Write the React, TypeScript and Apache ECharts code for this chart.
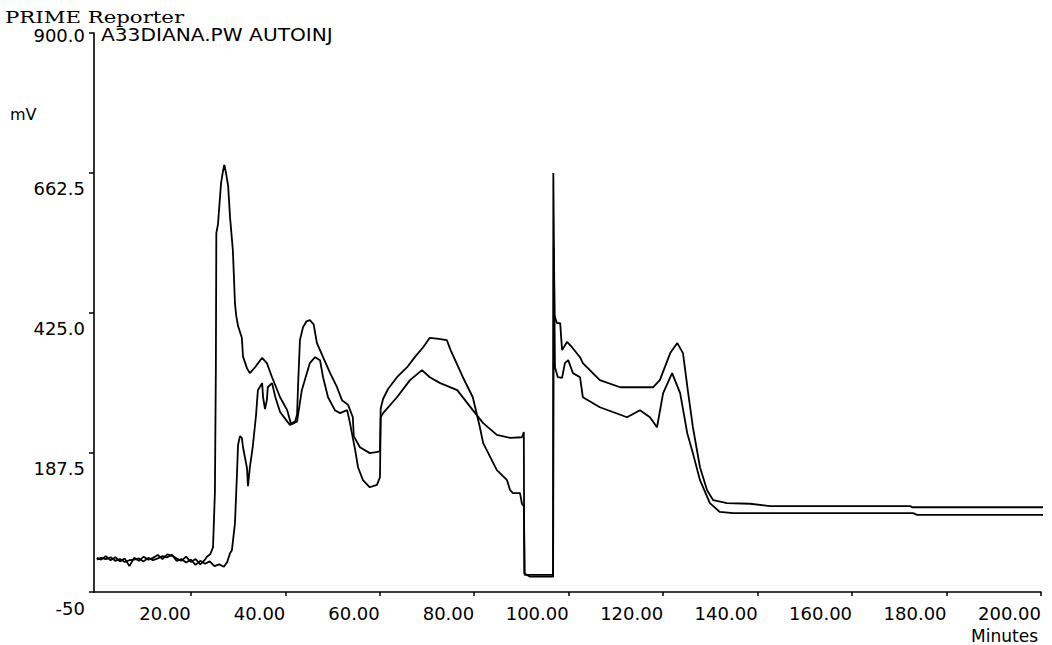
import React, { useEffect, useRef } from "react";
import * as echarts from "echarts";

const xTicks = [20, 40, 60, 80, 100, 120, 140, 160, 180, 200];
const yTicks = [-50, 187.5, 425, 662.5, 900];
const yTickLabels = ["-50", "187.5", "425.0", "662.5", "900.0"];

// trace A: early tall peak (minutes, mV)
const traceA: [number, number][] = [
  [0.1, 8], [1, 5], [2, 11], [3, 4], [4, 9], [5, 2], [6, 7], [7, -6], [8, 8], [9, 3],
  [10, 10], [11, 5], [12, 8], [13, 13], [14, 6], [15, 14], [16, 12], [17, 7], [18, 3], [19, 10],
  [20, 1], [21, 6], [22, -3], [23, 5], [23.4, 10], [24.1, 14], [24.7, 26], [25.1, 120], [25.3, 330],
  [25.4, 560], [25.75, 575], [26.4, 645], [26.8, 665], [27.1, 676], [27.45, 662], [27.9, 640],
  [28.3, 587], [28.9, 531], [29.35, 440], [29.6, 420], [30.0, 402], [30.8, 382], [31.05, 350],
  [31.9, 330], [32.5, 322], [33.6, 332], [35.1, 348], [36.1, 339], [37.2, 315], [38.9, 281],
  [40.4, 259], [41.2, 236], [42.1, 240], [42.5, 252], [42.7, 300], [43.1, 378], [43.75, 400],
  [44.5, 410], [45.2, 412], [46.0, 405], [46.7, 373], [48.0, 349], [49.5, 322], [50.95, 298],
  [52.0, 276], [53.3, 268], [54.3, 247], [54.5, 215], [55.8, 196], [57.9, 186], [59.6, 188],
  [60.05, 190], [60.2, 262], [60.7, 278], [61.75, 295], [63.65, 315], [65.8, 332], [67.5, 350],
  [69.2, 366], [70.6, 382], [72.5, 380], [74.2, 378], [75.0, 361], [77.6, 315], [79.7, 281],
  [81.2, 230], [81.9, 203], [84.8, 157], [86.95, 140], [87.6, 123], [88.2, 118], [89.7, 118],
  [90.1, 100], [90.5, 96], [90.7, -21], [91.8, -21], [96.7, -21], [96.75, 662], [97.0, 420],
  [97.5, 407], [98.2, 407], [98.6, 361], [99.65, 375], [100.7, 366], [102.4, 349], [103.0, 339],
  [106.6, 310], [110.9, 298], [114.5, 298], [117.9, 298], [119.3, 310], [121.5, 356], [123.0, 373],
  [124.2, 356], [125.3, 288], [126.3, 230], [127.8, 162], [129.3, 123], [130.6, 106], [133.5, 101],
  [138.4, 100], [142.6, 96], [172.3, 96], [172.7, 94], [202.3, 94],
];

// trace B: later rising trace (minutes, mV)
const traceB: [number, number][] = [
  [0.1, 5], [1, 8], [2, 6], [3, 9], [4, 3], [5, 6], [6, 1], [7, 4], [8, 5], [9, 7],
  [10, 2], [11, 8], [12, 4], [13, 7], [14, 11], [15, 9], [16, 13], [17, 3], [18, 6], [19, 0],
  [20, 5], [21, -4], [22, 3], [23, -2], [24, 2], [25, -6], [26, -3], [27, -7], [27.7, 1],
  [28.3, 16], [28.7, 21], [29.35, 67], [29.8, 157], [30.0, 200], [30.4, 215], [30.8, 212],
  [31.05, 196], [31.9, 160], [32.1, 130], [32.5, 162], [33.1, 196], [33.8, 250], [34.2, 293],
  [35.1, 305], [35.3, 281], [35.7, 261], [36.1, 276], [36.3, 298], [37.2, 305], [37.9, 281],
  [38.9, 256], [40.4, 240], [41.0, 234], [41.6, 236], [42.5, 240], [43.5, 293], [45.2, 339],
  [46.3, 349], [47.35, 344], [48.0, 315], [49.05, 281], [50.5, 259], [51.6, 254], [53.1, 259],
  [53.7, 237], [54.1, 220], [54.8, 191], [55.4, 162], [56.45, 140], [57.9, 128], [59.4, 132],
  [60.05, 145], [60.2, 247], [60.7, 254], [63.65, 281], [66.4, 310], [68.95, 327], [70.6, 315],
  [72.8, 305], [76.4, 293], [79.7, 259], [81.9, 237], [84.8, 217], [87.6, 212], [90.1, 213],
  [90.5, 222], [90.6, -18], [91.8, -24], [96.7, -24], [96.85, 535], [97.1, 332], [97.7, 315],
  [98.6, 314], [99.2, 339], [99.9, 344], [100.9, 322], [102.4, 315], [103.0, 281], [106.6, 264],
  [112.35, 247], [115.1, 259], [117.2, 247], [118.7, 230], [120.0, 288], [121.9, 322], [123.6, 288],
  [125.1, 220], [126.3, 186], [127.8, 140], [129.9, 101], [132.0, 86], [134.8, 84], [172.9, 84],
  [173.75, 81], [202.3, 81],
];

const SANS = "DejaVu Sans";

export default function App() {
  const ref = useRef<HTMLDivElement>(null);
  useEffect(() => {
    if (!ref.current) return;
    const chart = echarts.init(ref.current, null, { renderer: "svg" });
    chart.setOption({
      animation: false,
      backgroundColor: "#fff",
      grid: { left: 94, right: 11, top: 33, bottom: 53, containLabel: false, outerBoundsMode: "none" },
      xAxis: {
        type: "value",
        min: -0.5,
        max: 200,
        axisLine: { show: true, onZero: false, lineStyle: { color: "#000", width: 1.6 } },
        axisTick: { show: true, customValues: xTicks, length: 4, lineStyle: { color: "#000", width: 1.5 } },
        axisLabel: {
          customValues: xTicks,
          formatter: (v: number) => v.toFixed(2),
          align: "right",
          margin: 12,
          color: "#000",
          fontFamily: SANS,
          fontSize: 18,
        },
        splitLine: { show: false },
      },
      yAxis: {
        type: "value",
        min: -50,
        max: 900,
        axisLine: { show: true, onZero: false, lineStyle: { color: "#000", width: 1.6 } },
        axisTick: { show: true, customValues: yTicks, length: 5, lineStyle: { color: "#000", width: 1.5 } },
        axisLabel: {
          customValues: yTicks,
          margin: 9,
          formatter: (v: number) => {
            const i = yTicks.indexOf(v);
            const s = i >= 0 ? yTickLabels[i] : String(v);
            return v === 900 ? `{t|${s}}` : `{b|${s}}`;
          },
          rich: {
            t: { fontFamily: SANS, fontSize: 18, color: "#000", padding: [4, 0, 0, 0] },
            b: { fontFamily: SANS, fontSize: 18, color: "#000", padding: [32, 0, 0, 0] },
          },
        },
        splitLine: { show: false },
      },
      series: [
        {
          type: "line",
          data: traceA,
          showSymbol: false,
          symbol: "none",
          clip: false,
          silent: true,
          lineStyle: { color: "#000", width: 1.8 },
        },
        {
          type: "line",
          data: traceB,
          showSymbol: false,
          symbol: "none",
          clip: false,
          silent: true,
          lineStyle: { color: "#000", width: 1.8 },
        },
      ],
      graphic: [
        {
          type: "text",
          x: 5,
          y: 17,
          scaleX: 1.25,
          style: { text: "PRIME Reporter", fontFamily: "DejaVu Serif", fontSize: 17, fill: "#000", align: "left", verticalAlign: "middle" },
        },
        {
          type: "text",
          x: 101,
          y: 35,
          scaleX: 1.12,
          style: { text: "A33DIANA.PW AUTOINJ", fontFamily: SANS, fontSize: 18, fill: "#000", align: "left", verticalAlign: "middle" },
        },
        {
          type: "text",
          x: 10,
          y: 114,
          style: { text: "mV", fontFamily: SANS, fontSize: 16, fill: "#000", align: "left", verticalAlign: "middle" },
        },
        {
          type: "text",
          x: 1038,
          y: 636,
          style: { text: "Minutes", fontFamily: SANS, fontSize: 17, fill: "#000", align: "right", verticalAlign: "middle" },
        },
      ],
    });
    return () => chart.dispose();
  }, []);
  return (
    <div
      ref={ref}
      style={{ position: "fixed", left: 0, top: 0, width: 1052, height: 645, background: "#fff" }}
    />
  );
}
